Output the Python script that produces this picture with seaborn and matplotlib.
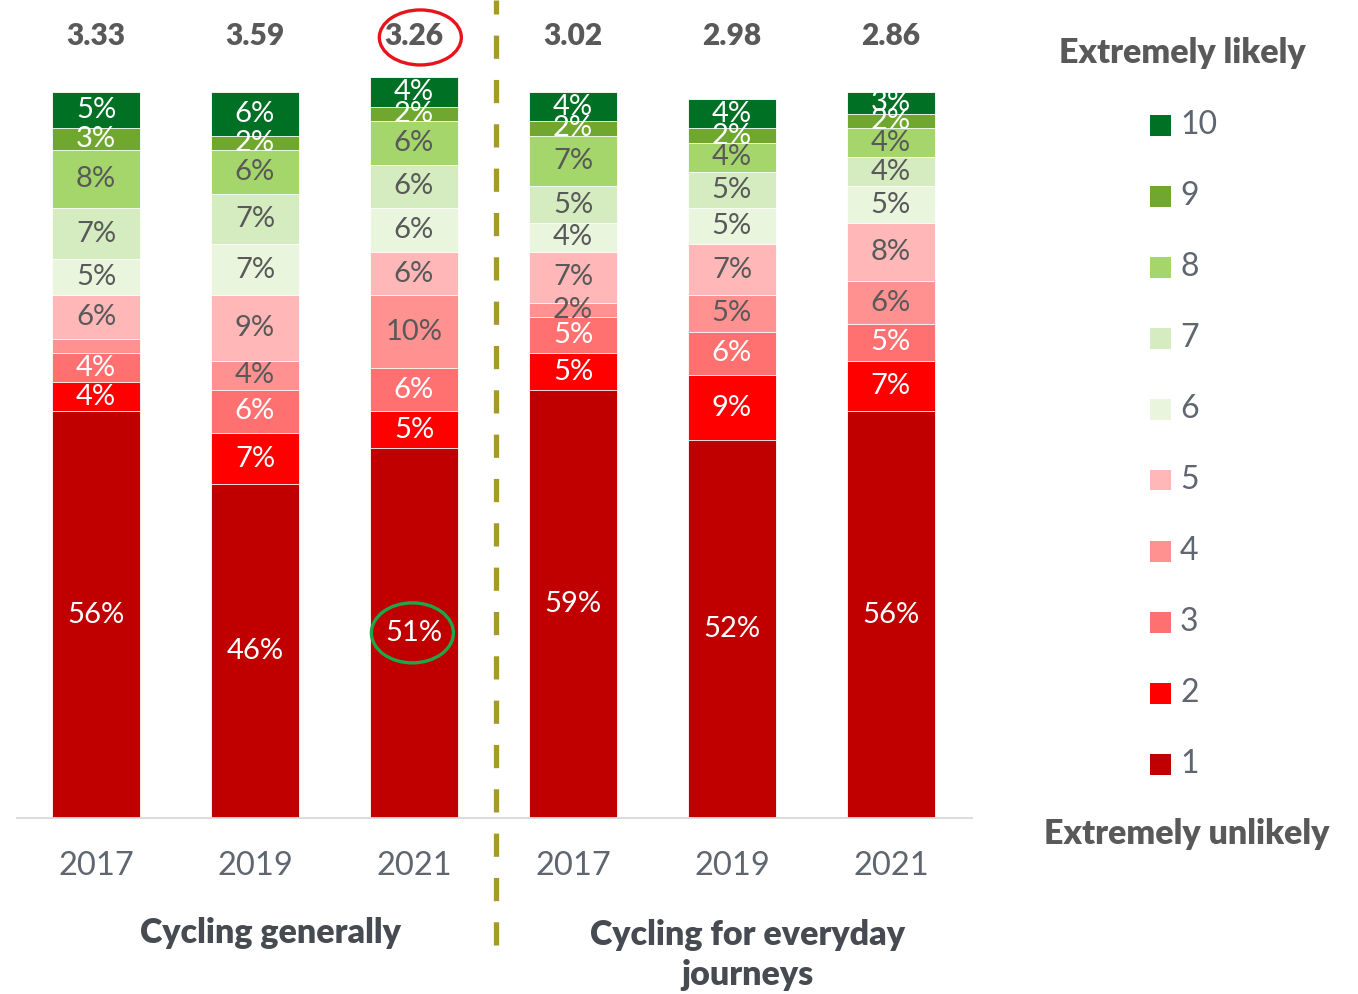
import matplotlib
matplotlib.use("Agg")
import matplotlib.pyplot as plt
from matplotlib.patches import Ellipse, Rectangle
import numpy as np
import pandas as pd
import seaborn as sns

# Survey: likelihood of cycling (1 = extremely unlikely, 10 = extremely likely)
bar_ids = ["gen_2017", "gen_2019", "gen_2021", "day_2017", "day_2019", "day_2021"]
year_labels = ["2017", "2019", "2021", "2017", "2019", "2021"]
group_labels = ["Cycling generally", "Cycling for everyday\njourneys"]
mean_scores = ["3.33", "3.59", "3.26", "3.02", "2.98", "2.86"]
levels = [1, 2, 3, 4, 5, 6, 7, 8, 9, 10]

# share (%) per score level, one list per bar, ordered 1..10
gen_2017 = [56, 4, 4, 2, 6, 5, 7, 8, 3, 5]
gen_2019 = [46, 7, 6, 4, 9, 7, 7, 6, 2, 6]
gen_2021 = [51, 5, 6, 10, 6, 6, 6, 6, 2, 4]
day_2017 = [59, 5, 5, 2, 7, 4, 5, 7, 2, 4]
day_2019 = [52, 9, 6, 5, 7, 5, 5, 4, 2, 4]
day_2021 = [56, 7, 5, 6, 8, 5, 4, 4, 2, 3]

# segments drawn without a value label (bar, level)
unlabeled = {("gen_2017", 4)}

level_colors = {
    1: "#C00000", 2: "#FF0000", 3: "#FF7171", 4: "#FF9191", 5: "#FFB7B7",
    6: "#E9F5DD", 7: "#D4ECBF", 8: "#A4D66B", 9: "#70A82F", 10: "#007025",
}
light_text_levels = {1, 2, 3, 9, 10}

shares = dict(zip(bar_ids, [gen_2017, gen_2019, gen_2021, day_2017, day_2019, day_2021]))
rows = []
for b in bar_ids:
    cum = np.cumsum(shares[b])
    for lvl, v, top in zip(levels, shares[b], cum):
        rows.append({"bar": b, "level": lvl, "pct": v, "top": top, "base": top - v})
df = pd.DataFrame(rows)

sns.set_style("white")
plt.rcParams["font.family"] = ["Lato", "DejaVu Sans"]
BOLD = "heavy"

W, H = 1358, 994
fig = plt.figure(figsize=(W / 100, H / 100), dpi=100)
PX_PER_PCT = 7.26
ax = fig.add_axes([17 / W, (H - 818) / H, (972 - 17) / W, 818 / H])

# stacked bars: draw cumulative heights from the top level down
for lvl in reversed(levels):
    sub = df[df["level"] == lvl]
    sns.barplot(data=sub, x="bar", y="top", order=bar_ids, color=level_colors[lvl],
                saturation=1, width=0.553, edgecolor="white", linewidth=0.6, ax=ax)

# segment value labels
for i, b in enumerate(bar_ids):
    sub = df[df["bar"] == b]
    for _, r in sub.iterrows():
        if (b, r["level"]) in unlabeled:
            continue
        col = "white" if r["level"] in light_text_levels else "#595959"
        ax.text(i, r["base"] + r["pct"] / 2, f"{r['pct']}%", ha="center", va="center",
                fontsize=21, color=col)

ymax = 818 / PX_PER_PCT
ax.set_xlim(-0.497, 5.51)
ax.set_ylim(0, ymax)
ax.set_xticks([])
ax.set_yticks([])
ax.set_xlabel("")
ax.set_ylabel("")
for s in ["top", "left", "right"]:
    ax.spines[s].set_visible(False)
ax.spines["bottom"].set_color("#D9D9D9")
ax.spines["bottom"].set_linewidth(1.3)

# mean score above each bar
y_mean = (818 - 36) / PX_PER_PCT
for i, m in enumerate(mean_scores):
    ax.text(i, y_mean, m, ha="center", va="center", fontsize=21.5, fontweight=BOLD,
            color="#595959", clip_on=False)

# year labels and group labels below the axis
for i, yl in enumerate(year_labels):
    ax.text(i, (818 - 866) / PX_PER_PCT, yl, ha="center", va="center", fontsize=23.5,
            color="#5F6670", clip_on=False)
ax.text(1.10, (818 - 933) / PX_PER_PCT, group_labels[0], ha="center", va="center",
        fontsize=24.5, fontweight=BOLD, color="#464B52", clip_on=False)
ax.text(4.10, (818 - 955) / PX_PER_PCT, group_labels[1], ha="center", va="center",
        fontsize=24.5, fontweight=BOLD, color="#464B52", clip_on=False, linespacing=1.3)

# dashed divider between the two groups
ax.axvline(2.516, ymin=-(945 - 818) / 818, ymax=1.0, color="#A39A2B", linewidth=3.8,
           linestyle=(0, (4.4, 4.0)), clip_on=False)

# highlight rings
ax.add_patch(Ellipse((2.04, y_mean - 0.2), 82 / 159, 55 / PX_PER_PCT, fill=False,
                     edgecolor="#E8141B", linewidth=2.4, clip_on=False))
ax.add_patch(Ellipse((1.99, gen_2021[0] / 2), 82 / 159, 60 / PX_PER_PCT, fill=False,
                     edgecolor="#1FA64A", linewidth=2.4, clip_on=False))

# legend: score scale from 10 (top) to 1 (bottom)
def fx(px):
    return px / W


def fy(py):
    return 1 - py / H


fig.text(fx(1182), fy(53), "Extremely likely", ha="center", va="center", fontsize=24.5,
         fontweight=BOLD, color="#595959")
fig.text(fx(1187), fy(834), "Extremely unlikely", ha="center", va="center", fontsize=24.5,
         fontweight=BOLD, color="#595959")
for k, lvl in enumerate(reversed(levels)):
    yc = 125 + 71 * k
    fig.add_artist(Rectangle((fx(1150), fy(yc + 10.5)), 21 / W, 21 / H,
                             transform=fig.transFigure, facecolor=level_colors[lvl],
                             edgecolor="none"))
    fig.text(fx(1180), fy(yc), str(lvl), ha="left", va="center", fontsize=23,
             color="#5F6670")

fig.savefig("out.png", dpi=100)
